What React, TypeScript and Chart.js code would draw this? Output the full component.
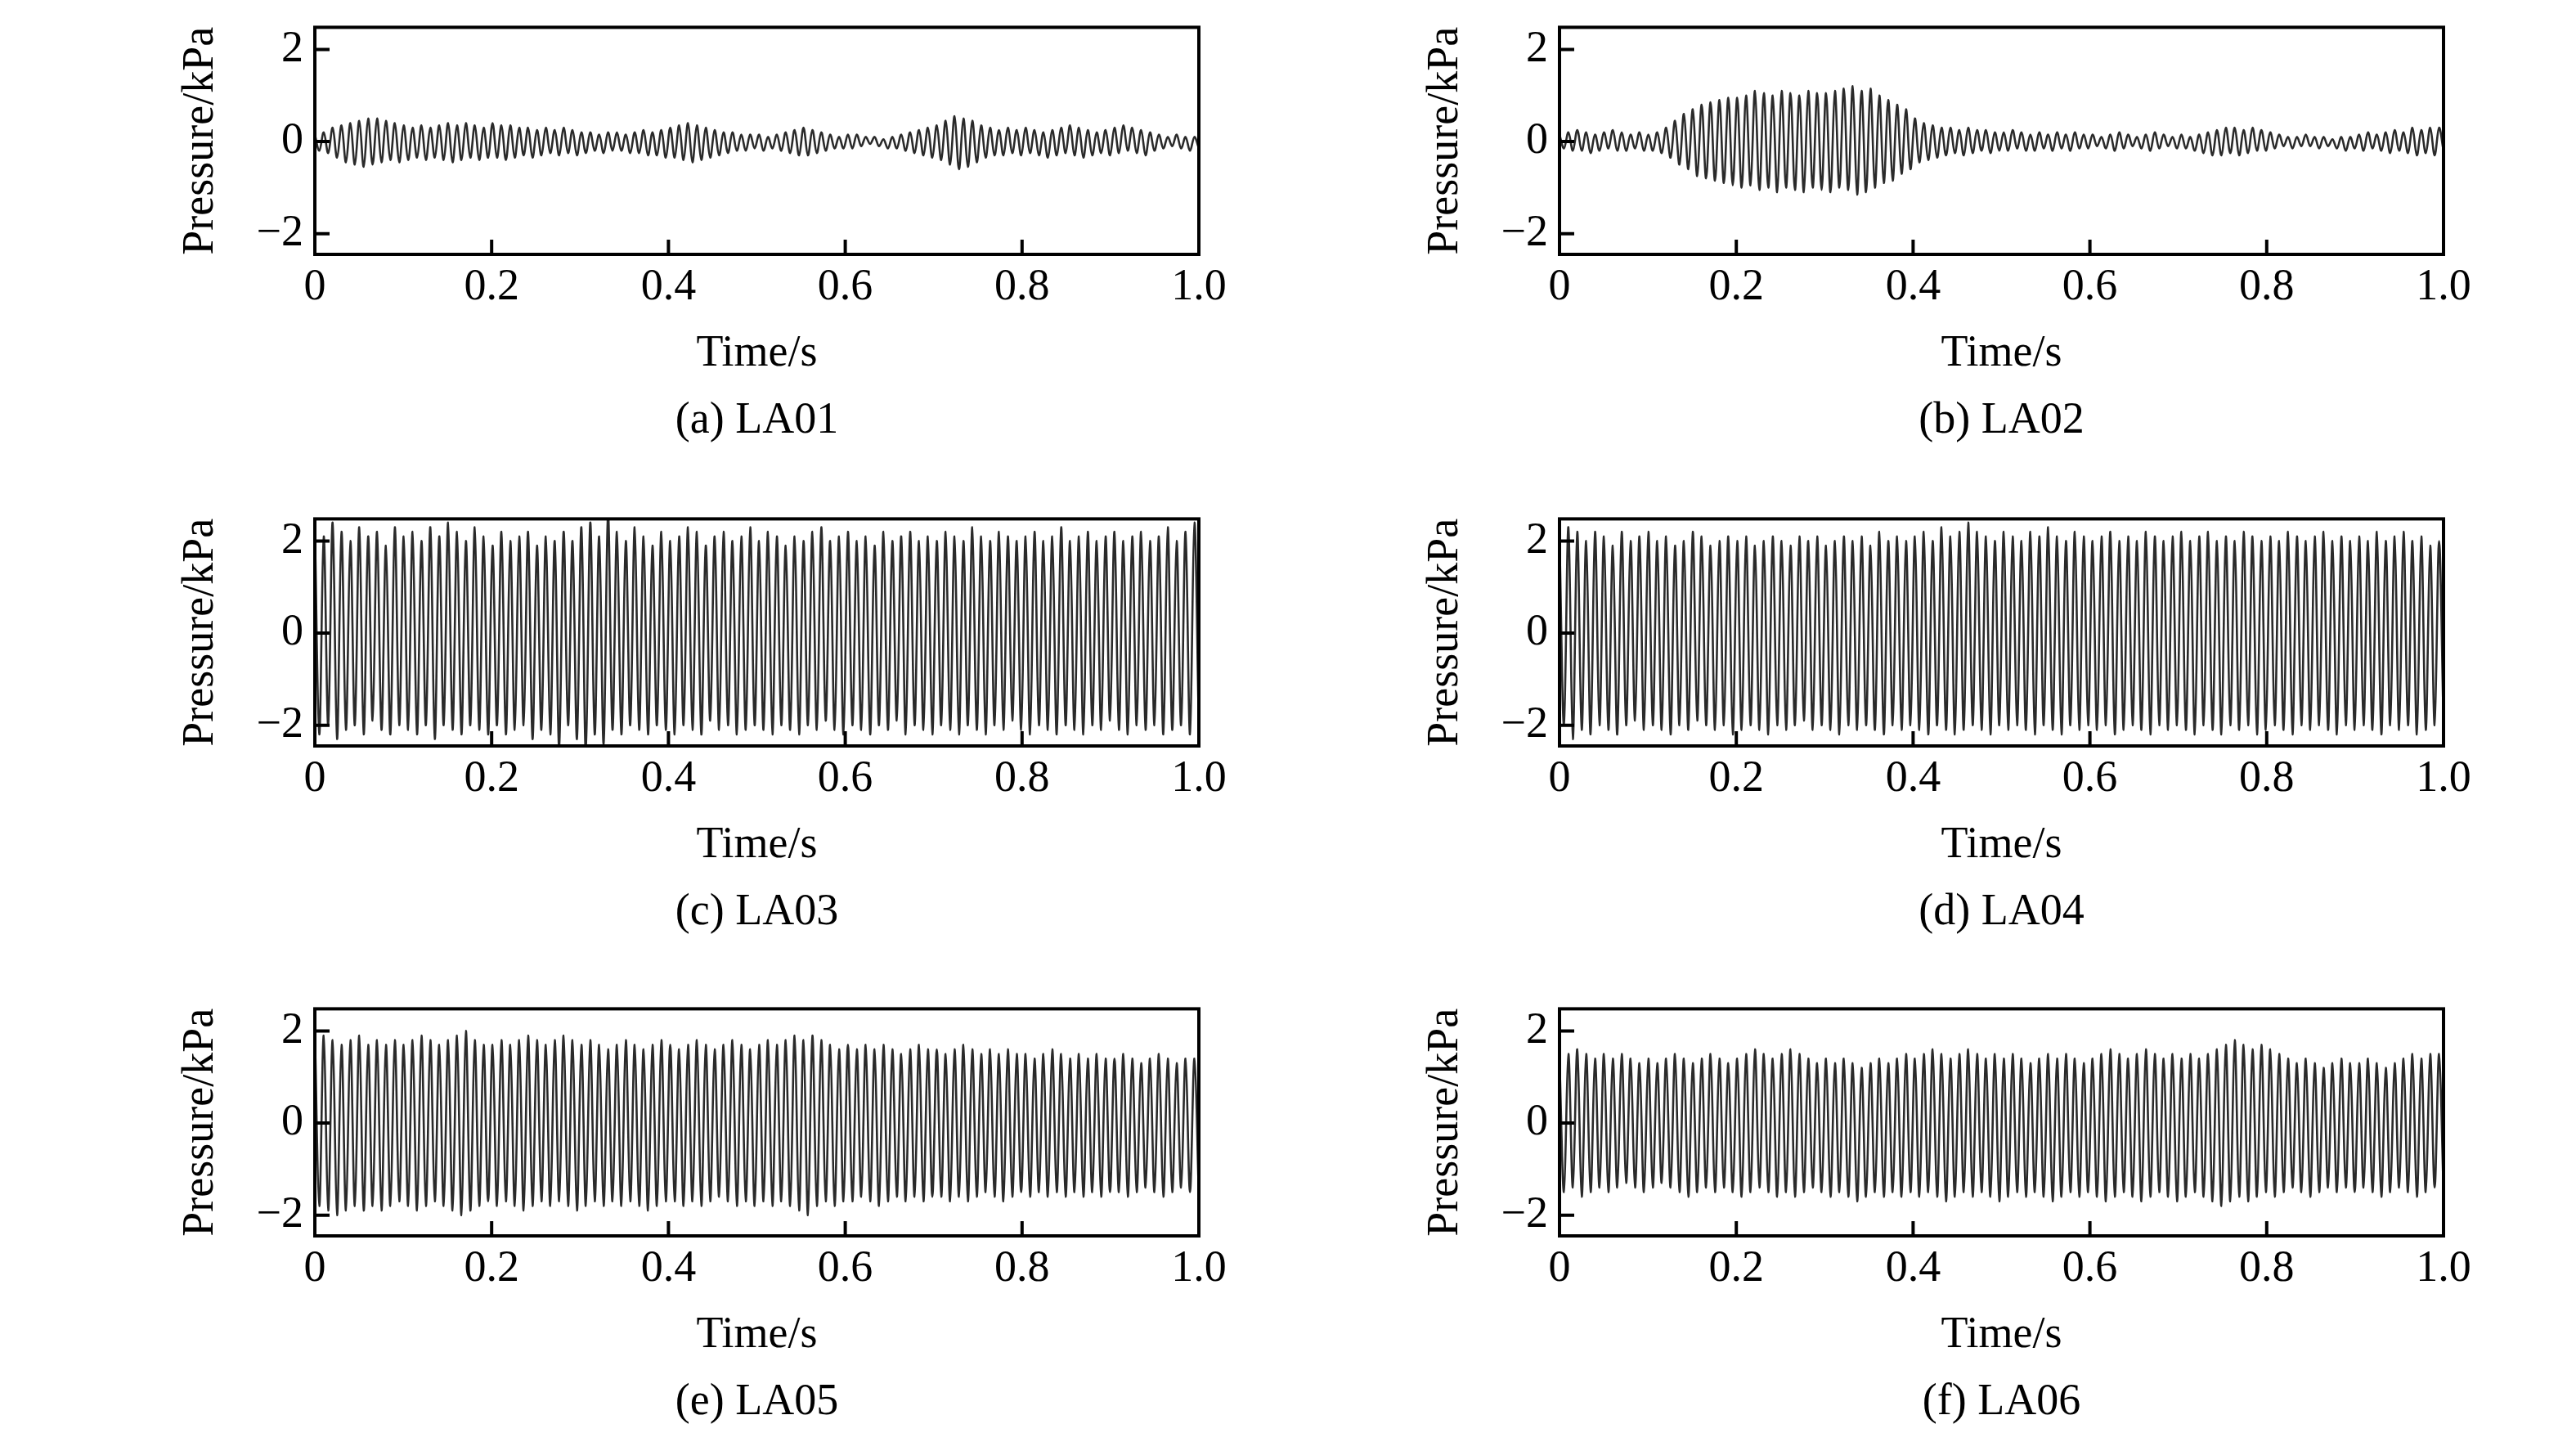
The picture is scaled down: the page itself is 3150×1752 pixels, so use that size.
import React, { useEffect, useRef } from "react";
import { Chart, registerables } from "chart.js";
Chart.register(...registerables);

// Peak values per oscillation cycle (upper and lower), 100 cycles over 1 s
const A_UP = [.15,.2,.3,.35,.4,.45,.5,.5,.45,.4, .35,.3,.35,.3,.35,.4,.35,.4,.35,.3, .4,.35,.35,.3,.3,.25,.3,.25,.3,.25, .2,.2,.15,.2,.2,.15,.2,.25,.2,.25, .3,.35,.4,.35,.3,.25,.2,.2,.15,.15, .15,.1,.15,.2,.25,.3,.25,.2,.15,.1, .15,.15,.1,.1,.05,.1,.15,.2,.25,.3, .35,.45,.55,.5,.45,.35,.3,.25,.3,.25, .3,.25,.2,.25,.3,.35,.3,.25,.2,.25, .3,.35,.3,.25,.2,.15,.1,.15,.1,.1];
const A_LO = [-.2,-.25,-.35,-.45,-.5,-.55,-.5,-.45,-.4,-.45, -.4,-.35,-.4,-.35,-.4,-.45,-.4,-.35,-.4,-.35, -.35,-.4,-.35,-.3,-.35,-.3,-.25,-.3,-.25,-.3, -.25,-.2,-.25,-.2,-.2,-.25,-.25,-.3,-.3,-.35, -.35,-.4,-.45,-.4,-.35,-.3,-.25,-.2,-.2,-.15, -.2,-.15,-.2,-.25,-.3,-.3,-.25,-.2,-.15,-.15, -.15,-.1,-.05,-.1,-.15,-.15,-.2,-.25,-.3,-.35, -.4,-.5,-.6,-.55,-.45,-.35,-.3,-.3,-.25,-.3, -.25,-.3,-.35,-.3,-.25,-.3,-.35,-.3,-.25,-.3, -.25,-.2,-.25,-.3,-.2,-.15,-.1,-.15,-.2,-.15];
const B_UP = [.15,.2,.25,.2,.15,.2,.25,.2,.15,.2, .15,.2,.3,.45,.6,.7,.8,.85,.9,.95, .95,1.0,1.1,1.05,1.0,1.1,1.05,1.0,1.1,1.05, 1.05,1.1,1.15,1.2,1.1,1.15,1.0,.9,.8,.7, .5,.4,.35,.3,.3,.25,.3,.25,.25,.2, .2,.25,.2,.15,.2,.15,.2,.15,.2,.15, .15,.1,.15,.2,.15,.1,.15,.2,.15,.1, .15,.1,.15,.2,.25,.3,.3,.25,.3,.25, .2,.15,.1,.1,.15,.1,.1,.05,.1,.1, .15,.2,.15,.2,.25,.2,.3,.25,.3,.3];
const B_LO = [-.15,-.2,-.2,-.25,-.2,-.15,-.2,-.2,-.15,-.2, -.2,-.25,-.35,-.5,-.6,-.75,-.8,-.85,-.9,-.95, -1.0,-.95,-1.05,-1.0,-1.1,-1.0,-1.05,-1.1,-1.0,-1.05, -1.1,-1.0,-1.05,-1.15,-1.1,-1.0,-.9,-.85,-.7,-.6, -.45,-.4,-.35,-.3,-.25,-.3,-.25,-.2,-.25,-.2, -.2,-.15,-.2,-.2,-.15,-.2,-.15,-.2,-.15,-.15, -.1,-.15,-.2,-.15,-.1,-.15,-.2,-.15,-.1,-.15, -.15,-.2,-.25,-.3,-.3,-.25,-.3,-.25,-.2,-.2, -.15,-.1,-.15,-.1,-.1,-.15,-.1,-.15,-.2,-.15, -.2,-.15,-.2,-.25,-.2,-.25,-.3,-.25,-.3,-.2];
const C_UP = [2.3,2.1,2.4,2.2,2.0,2.3,2.1,2.2,1.9,2.3, 2.1,2.2,2.0,2.3,2.1,2.4,2.2,2.0,2.3,2.1, 1.9,2.2,2.0,2.1,2.2,1.9,2.1,2.0,2.2,2.0, 2.3,2.4,2.1,2.6,2.2,2.0,2.3,2.1,1.9,2.2, 2.0,2.1,2.3,2.2,1.9,2.1,2.2,2.0,2.1,2.3, 2.0,2.2,2.1,1.9,2.1,2.0,2.2,2.3,2.0,2.1, 2.2,2.0,2.1,1.9,2.2,2.0,2.1,2.2,2.0,2.1, 2.0,2.2,2.1,2.0,2.3,2.1,2.0,2.2,2.1,2.0, 2.1,2.2,2.0,2.1,2.3,2.0,2.1,2.2,2.0,2.1, 2.2,2.0,2.1,2.2,2.0,2.1,2.3,2.0,2.2,2.4];
const C_LO = [-2.2,-2.0,-2.3,-2.1,-2.0,-2.2,-1.9,-2.1,-2.2,-2.0, -2.1,-2.2,-2.0,-2.3,-2.0,-2.1,-2.2,-2.0,-2.1,-2.2, -2.0,-2.2,-2.1,-2.0,-2.3,-2.1,-2.2,-2.5,-2.0,-2.3, -2.6,-2.2,-2.4,-2.1,-2.2,-2.0,-2.1,-2.2,-2.0,-2.1, -2.2,-2.0,-2.1,-2.2,-1.9,-2.1,-2.0,-2.2,-2.1,-2.0, -2.1,-2.2,-2.0,-2.1,-2.2,-2.0,-2.1,-1.9,-2.1,-2.2, -2.0,-2.1,-2.2,-2.0,-2.1,-1.9,-2.2,-2.0,-2.1,-2.2, -2.0,-2.1,-2.2,-2.0,-2.1,-2.2,-2.0,-2.1,-1.9,-2.1, -2.2,-2.0,-2.1,-2.2,-2.0,-2.1,-2.2,-2.0,-2.1,-1.9, -2.1,-2.2,-2.0,-2.1,-2.0,-2.2,-2.1,-2.0,-2.2,-2.1];
const D_UP = [2.1,2.3,2.2,2.0,2.2,2.1,1.9,2.2,2.0,2.1, 2.2,2.0,2.1,1.9,2.0,2.2,2.1,1.9,2.0,2.1, 2.0,2.1,1.9,2.0,2.1,2.0,1.9,2.1,2.0,2.1, 1.9,2.0,2.1,2.0,2.1,1.9,2.2,2.0,2.1,2.0, 2.1,2.2,2.0,2.3,2.1,2.2,2.4,2.2,2.1,2.0, 2.2,2.1,2.0,2.2,2.1,2.3,2.1,2.0,2.2,2.1, 2.0,2.1,2.2,2.0,2.1,2.0,2.2,2.1,2.0,2.1, 2.2,2.0,2.1,2.2,2.0,2.1,2.0,2.2,2.1,2.0, 2.1,2.0,2.2,2.1,2.0,2.1,2.2,2.0,2.1,2.0, 2.1,2.0,2.2,2.0,2.1,2.2,2.0,2.1,1.9,2.0];
const D_LO = [-2.0,-2.3,-2.1,-2.2,-2.0,-2.1,-2.2,-2.0,-1.9,-2.1, -2.0,-2.1,-2.2,-2.0,-2.1,-1.9,-2.0,-2.1,-2.0,-2.2, -2.1,-2.0,-2.1,-2.2,-2.0,-2.1,-2.0,-1.9,-2.1,-2.0, -2.1,-2.2,-2.0,-2.1,-2.0,-2.1,-2.2,-2.0,-2.1,-2.0, -2.1,-2.2,-2.0,-2.1,-2.2,-2.1,-2.0,-2.1,-2.2,-2.0, -2.1,-2.0,-2.1,-2.2,-2.0,-2.1,-2.2,-2.0,-2.1,-2.0, -2.1,-2.0,-2.2,-2.1,-2.0,-2.1,-2.2,-2.0,-2.1,-2.0, -2.1,-2.2,-2.0,-2.1,-2.2,-2.0,-2.1,-2.0,-2.2,-2.1, -2.0,-2.1,-2.2,-2.0,-2.1,-2.0,-2.1,-2.2,-2.0,-2.1, -2.0,-2.1,-2.2,-2.0,-2.1,-2.0,-2.2,-2.1,-2.0,-2.0];
const E_UP = [2.0,1.9,1.8,1.7,1.8,1.9,1.7,1.8,1.7,1.8, 1.7,1.8,1.9,1.8,1.7,1.8,1.9,2.0,1.8,1.7, 1.7,1.8,1.7,1.8,1.9,1.8,1.7,1.8,1.9,1.8, 1.7,1.8,1.7,1.6,1.7,1.8,1.7,1.6,1.7,1.8, 1.7,1.6,1.7,1.8,1.7,1.6,1.7,1.8,1.7,1.6, 1.7,1.8,1.7,1.8,1.9,1.8,1.9,1.8,1.7,1.6, 1.7,1.6,1.7,1.6,1.7,1.6,1.5,1.6,1.7,1.6, 1.6,1.5,1.6,1.7,1.6,1.5,1.6,1.5,1.6,1.5, 1.5,1.4,1.5,1.6,1.5,1.4,1.5,1.4,1.5,1.4, 1.4,1.5,1.4,1.3,1.4,1.5,1.4,1.3,1.4,1.4];
const E_LO = [-1.8,-1.9,-2.0,-1.9,-1.8,-1.9,-1.8,-1.9,-1.8,-1.7, -1.8,-1.9,-1.8,-1.7,-1.8,-1.9,-2.0,-1.9,-1.8,-1.7, -1.8,-1.7,-1.8,-1.9,-1.8,-1.7,-1.8,-1.7,-1.8,-1.9, -1.8,-1.7,-1.8,-1.7,-1.8,-1.7,-1.8,-1.9,-1.8,-1.7, -1.7,-1.8,-1.7,-1.8,-1.7,-1.6,-1.7,-1.8,-1.7,-1.8, -1.7,-1.8,-1.7,-1.8,-1.9,-2.0,-1.8,-1.7,-1.8,-1.7, -1.7,-1.6,-1.7,-1.8,-1.7,-1.6,-1.7,-1.6,-1.7,-1.6, -1.6,-1.7,-1.6,-1.7,-1.6,-1.5,-1.6,-1.7,-1.6,-1.5, -1.6,-1.5,-1.6,-1.5,-1.6,-1.5,-1.6,-1.5,-1.6,-1.5, -1.5,-1.6,-1.5,-1.4,-1.5,-1.6,-1.5,-1.4,-1.5,-1.6];
const F_UP = [1.4,1.5,1.6,1.5,1.4,1.5,1.4,1.5,1.4,1.3, 1.4,1.3,1.4,1.5,1.4,1.3,1.4,1.5,1.4,1.3, 1.4,1.5,1.6,1.5,1.4,1.5,1.6,1.5,1.4,1.3, 1.4,1.3,1.4,1.3,1.2,1.3,1.4,1.3,1.4,1.5, 1.4,1.5,1.6,1.5,1.4,1.5,1.6,1.5,1.4,1.5, 1.4,1.5,1.4,1.3,1.4,1.5,1.4,1.5,1.4,1.3, 1.4,1.5,1.6,1.5,1.4,1.5,1.6,1.5,1.4,1.5, 1.4,1.5,1.4,1.5,1.6,1.7,1.8,1.7,1.6,1.7, 1.6,1.5,1.4,1.3,1.4,1.3,1.2,1.3,1.4,1.3, 1.3,1.4,1.3,1.2,1.3,1.4,1.5,1.4,1.5,1.5];
const F_LO = [-1.5,-1.4,-1.6,-1.5,-1.4,-1.5,-1.4,-1.3,-1.4,-1.5, -1.4,-1.3,-1.4,-1.5,-1.6,-1.5,-1.4,-1.5,-1.4,-1.5, -1.6,-1.5,-1.4,-1.5,-1.6,-1.5,-1.6,-1.5,-1.4,-1.5, -1.6,-1.5,-1.6,-1.7,-1.6,-1.5,-1.6,-1.5,-1.6,-1.5, -1.6,-1.5,-1.6,-1.7,-1.6,-1.5,-1.6,-1.5,-1.6,-1.7, -1.6,-1.5,-1.6,-1.5,-1.6,-1.7,-1.6,-1.5,-1.6,-1.5, -1.6,-1.7,-1.6,-1.5,-1.6,-1.7,-1.6,-1.5,-1.6,-1.7, -1.6,-1.5,-1.6,-1.7,-1.8,-1.7,-1.6,-1.7,-1.6,-1.5, -1.6,-1.5,-1.4,-1.5,-1.6,-1.5,-1.4,-1.5,-1.4,-1.5, -1.4,-1.5,-1.6,-1.5,-1.4,-1.5,-1.6,-1.5,-1.4,-1.5];

const CAPTIONS = ["(a) LA01", "(b) LA02", "(c) LA03", "(d) LA04", "(e) LA05", "(f) LA06"];
const UPS = [A_UP, B_UP, C_UP, D_UP, E_UP, F_UP];
const LOS = [A_LO, B_LO, C_LO, D_LO, E_LO, F_LO];
const X_TICKS = [0, 0.2, 0.4, 0.6, 0.8, 1.0];
const Y_TICKS = [-2, 0, 2];

const COL_LEFT = [385, 1907];
const ROW_TOP = [7, 608, 1207];
const PLOT_W = 1081;
const PLOT_H = 304;
const FS = 54;
const YW = 172, XH = 154, PADT = 20, CAPH = 92, PADR = 90;
const FONT = "'Liberation Serif', 'Times New Roman', serif";

const inwardTicks = {
  id: "inwardTicks",
  afterDraw(chart: any) {
    const { ctx, chartArea: a, scales } = chart;
    ctx.save();
    ctx.strokeStyle = "#000";
    ctx.lineWidth = 4;
    ctx.beginPath();
    for (const v of X_TICKS) {
      const x = scales.x.getPixelForValue(v);
      ctx.moveTo(x, a.bottom); ctx.lineTo(x, a.bottom - 18);
    }
    for (const v of Y_TICKS) {
      const y = scales.y.getPixelForValue(v);
      ctx.moveTo(a.left, y); ctx.lineTo(a.left + 18, y);
    }
    ctx.stroke();
    ctx.strokeRect(a.left, a.top, a.right - a.left, a.bottom - a.top);
    const cap = chart.options.plugins.caption?.text;
    if (cap) {
      ctx.fillStyle = "#000";
      ctx.font = `${FS}px ${FONT}`;
      ctx.textAlign = "center";
      ctx.textBaseline = "middle";
      ctx.fillText(cap, (a.left + a.right) / 2, a.bottom + 204);
    }
    ctx.restore();
  },
};

function Panel({ idx }: { idx: number }) {
  const ref = useRef<HTMLCanvasElement>(null);
  const W = YW + PLOT_W + PADR;
  const H = PADT + PLOT_H + XH + CAPH;
  useEffect(() => {
    const up = UPS[idx], lo = LOS[idx];
    const n = up.length * 2;
    const data: { x: number; y: number }[] = [];
    for (let i = 0; i < up.length; i++) {
      data.push({ x: (2 * i) / (n - 1), y: up[i] });
      data.push({ x: (2 * i + 1) / (n - 1), y: lo[i] });
    }
    const chart = new Chart(ref.current!, {
      type: "line",
      data: { datasets: [{ data, borderColor: "#2a2a2a", borderWidth: 2.6, pointRadius: 0, tension: 0.35 }] },
      options: {
        animation: false,
        responsive: false,
        devicePixelRatio: 1,
        layout: { padding: { top: PADT, right: PADR, left: 0, bottom: CAPH } },
        plugins: {
          legend: { display: false },
          tooltip: { enabled: false },
          title: { display: false },
          caption: { text: CAPTIONS[idx] },
        },
        scales: {
          x: {
            type: "linear", min: 0, max: 1,
            afterBuildTicks: (s: any) => { s.ticks = X_TICKS.map((v) => ({ value: v })); },
            afterFit: (s: any) => { s.height = XH; },
            grid: { display: false, drawTicks: false },
            border: { display: false },
            ticks: { color: "#000", padding: 8, maxRotation: 0, font: { family: FONT, size: FS },
              callback: (v: any) => (v === 0 ? "0" : Number(v).toFixed(1)) },
            title: { display: true, text: "Time/s", color: "#000", font: { family: FONT, size: FS }, padding: { top: 0, bottom: 0 } },
          },
          y: {
            min: -2.45, max: 2.48,
            afterBuildTicks: (s: any) => { s.ticks = Y_TICKS.map((v) => ({ value: v })); },
            afterFit: (s: any) => { s.width = YW; },
            grid: { display: false, drawTicks: false },
            border: { display: false },
            ticks: { color: "#000", padding: 14, font: { family: FONT, size: FS },
              callback: (v: any) => (v < 0 ? "\u2212" + Math.abs(v) : String(v)) },
            title: { display: true, text: "Pressure/kPa", color: "#000", font: { family: FONT, size: FS }, padding: { top: 0, bottom: 0 } },
          },
        },
      },
      plugins: [inwardTicks],
    } as any);
    return () => chart.destroy();
  }, [idx]);
  const col = idx % 2, row = Math.floor(idx / 2);
  return (
    <canvas ref={ref} width={W} height={H}
      style={{ position: "absolute", left: COL_LEFT[col] - YW, top: ROW_TOP[row] - PADT, width: W, height: H }} />
  );
}

export default function App() {
  return (
    <div style={{ position: "absolute", left: 0, top: 0, width: 3150, height: 1752, background: "#fff", overflow: "hidden" }}>
      {[0, 1, 2, 3, 4, 5].map((i) => <Panel key={i} idx={i} />)}
    </div>
  );
}
